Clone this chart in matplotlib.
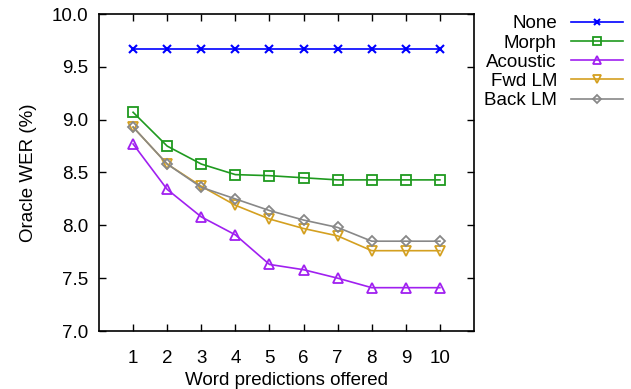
import matplotlib
matplotlib.use("Agg")
import matplotlib.pyplot as plt

plt.rcParams['font.family'] = ['Liberation Sans', 'DejaVu Sans']

x = list(range(1, 11))
none_v = [9.67] * 10
morph = [9.07, 8.75, 8.58, 8.48, 8.47, 8.45, 8.43, 8.43, 8.43, 8.43]
acoustic = [8.77, 8.34, 8.08, 7.91, 7.63, 7.58, 7.50, 7.41, 7.41, 7.41]
fwd_lm = [8.93, 8.58, 8.37, 8.19, 8.06, 7.97, 7.90, 7.76, 7.76, 7.76]
back_lm = [8.93, 8.58, 8.36, 8.25, 8.14, 8.05, 7.98, 7.85, 7.85, 7.85]
yticks = [7.0, 7.5, 8.0, 8.5, 9.0, 9.5, 10.0]

fig = plt.figure(figsize=(6.31, 3.89), dpi=100)
ax = fig.add_axes([99/631, 1-331/389, 375/631, 317/389])

lw = 1.2
ax.plot(x, none_v, color='#0000ff', lw=lw, marker='x', ms=6, mew=1.5, label='None')
ax.plot(x, morph, color='#1f9a1f', lw=lw, marker='s', ms=6.5, mfc='none', mew=1.3, label='Morph')
ax.plot(x, acoustic, color='#a020f0', lw=lw, marker='^', ms=7, mfc='none', mew=1.3, label='Acoustic')
ax.plot(x, fwd_lm, color='#d4a020', lw=lw, marker='v', ms=7, mfc='none', mew=1.3, label='Fwd LM')
ax.plot(x, back_lm, color='#888888', lw=lw, marker='D', ms=5, mfc='none', mew=1.3, label='Back LM')

ax.set_xlim(0, 11)
ax.set_ylim(7.0, 10.0)
ax.set_xticks(x)
ax.set_yticks(yticks)
ax.set_yticklabels([f"{v:.1f}" for v in yticks])
ax.tick_params(direction='in', top=True, right=True, length=5, width=1, labelsize=13.5)
ax.tick_params(axis='y', pad=8)
ax.tick_params(axis='x', pad=14)
for s in ax.spines.values():
    s.set_linewidth(1.2)
ax.set_xlabel('Word predictions offered', fontsize=13.5, labelpad=3)
ax.set_ylabel('Oracle WER (%)', fontsize=13.5, labelpad=10)

leg = fig.legend(loc='upper right', bbox_to_anchor=(0.997, 0.975), markerfirst=False,
                 frameon=False, fontsize=13.5, labelspacing=0.11, handlelength=2.8,
                 handletextpad=0.75, borderaxespad=0.0, borderpad=0.3, markerscale=0.8)

fig.savefig('out.png', dpi=100)
